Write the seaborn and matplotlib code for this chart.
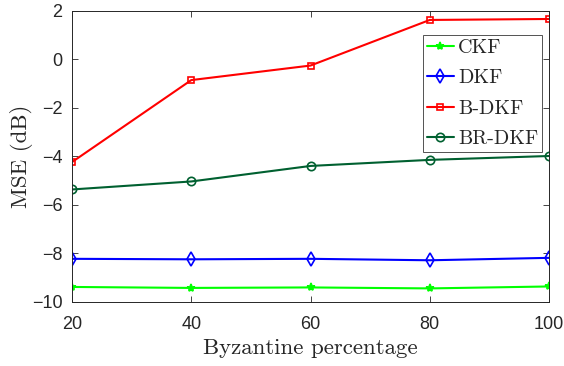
import matplotlib
matplotlib.use("Agg")
import matplotlib.pyplot as plt
import seaborn as sns
import pandas as pd

x_vals = [20, 40, 60, 80, 100]
ckf = [-9.38, -9.42, -9.40, -9.44, -9.36]
dkf = [-8.22, -8.24, -8.22, -8.28, -8.18]
b_dkf = [-4.23, -0.85, -0.25, 1.63, 1.67]
br_dkf = [-5.36, -5.03, -4.39, -4.14, -3.98]
series_names = ["CKF", "DKF", "B-DKF", "BR-DKF"]

sns.set_style("ticks")
plt.rcParams['font.family'] = ['Liberation Sans', 'DejaVu Sans']

fig = plt.figure(figsize=(5.64, 3.66), dpi=100)
ax = fig.add_axes([0.1277, 0.1749, 0.9734 - 0.1277, 0.970 - 0.1749])

styles = {
    "CKF": dict(color="#00ff00", marker="*", mfc="#00ff00", ms=6),
    "DKF": dict(color="#0000ff", marker="d", mfc="none", ms=7),
    "B-DKF": dict(color="#ff0000", marker="s", mfc="none", ms=5),
    "BR-DKF": dict(color="#006030", marker="o", mfc="none", ms=6),
}
data = {"CKF": ckf, "DKF": dkf, "B-DKF": b_dkf, "BR-DKF": br_dkf}

for name in series_names:
    df = pd.DataFrame({"x": x_vals, "y": data[name]})
    st = styles[name]
    sns.lineplot(data=df, x="x", y="y", ax=ax, color=st["color"], marker=st["marker"],
                 markerfacecolor=st["mfc"], markeredgecolor=st["color"], markersize=st["ms"],
                 markeredgewidth=1.2, linewidth=1.5, label=name)

ax.set_xlim(20, 100)
ax.set_ylim(-10, 2)
ax.set_xticks([20, 40, 60, 80, 100])
ax.set_yticks([-10, -8, -6, -4, -2, 0, 2])
ax.tick_params(direction="in", top=True, right=True, labelsize=13, colors="#262626",
               length=4, width=0.6)
ax.tick_params(axis="x", pad=10)
ax.tick_params(axis="y", pad=7)
for lab in ax.get_xticklabels() + ax.get_yticklabels():
    lab.set_color("#262626")
for sp in ax.spines.values():
    sp.set_color("#262626")
    sp.set_linewidth(0.7)

ax.set_xlabel("Byzantine percentage", fontfamily="cmr10", fontsize=16.5, color="#262626", labelpad=4)
ax.set_ylabel("MSE (dB)", fontfamily="cmr10", fontsize=16.5, color="#262626", labelpad=-1)

leg = ax.legend(loc="upper right", bbox_to_anchor=(0.986, 0.917), prop={"family": "cmr10", "size": 14.5},
                frameon=True, fancybox=False, edgecolor="#262626", handlelength=1.35,
                handletextpad=0.2, borderpad=0.2, labelspacing=0.6, borderaxespad=0)
leg.get_frame().set_linewidth(0.7)

fig.savefig("out.png", dpi=100)
